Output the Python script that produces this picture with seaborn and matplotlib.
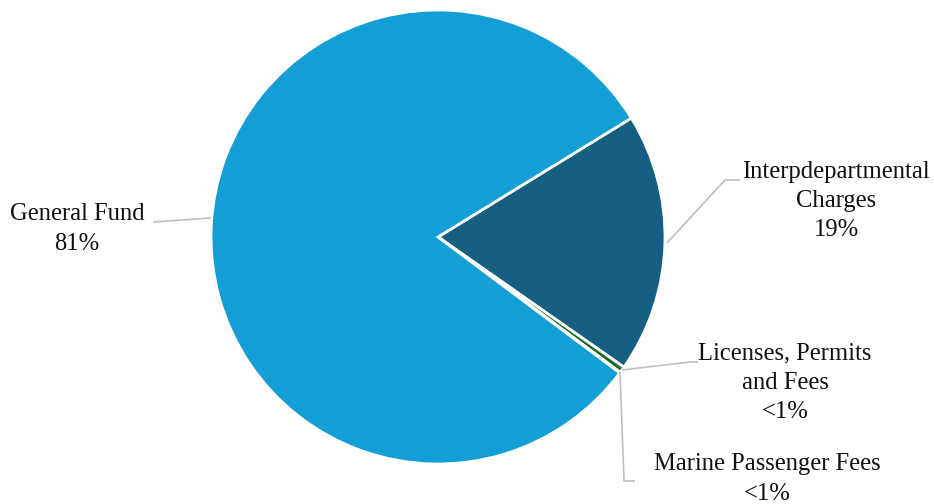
import matplotlib
matplotlib.use("Agg")
import matplotlib.pyplot as plt
import seaborn as sns
import numpy as np

# Funding sources (percent of total)
sources = ["Interpdepartmental\nCharges", "Licenses, Permits\nand Fees",
           "Marine Passenger Fees", "General Fund"]
shares = [18.5, 0.45, 0.05, 81.0]
share_labels = ["19%", "<1%", "<1%", "81%"]
colors = ["#175F82", "#1E6B2A", "#8FB8D8", "#139FD6"]

sns.set_theme(style="white")
plt.rcParams["font.family"] = ["Liberation Serif", "DejaVu Serif"]

W, H = 934, 504
fig = plt.figure(figsize=(W / 100, H / 100), dpi=100)
ax = fig.add_axes([0, 0, 1, 1])

# pie centre and radius in pixels
cx, cy, R = 438, 237, 227

wedges, _ = ax.pie(shares, colors=colors, startangle=31.6, counterclock=False,
                   radius=1.0, center=(0, 0),
                   wedgeprops=dict(edgecolor="white", linewidth=2.0))

ax.set_aspect("equal", adjustable="datalim")
ax.axis("off")


def px(x, y):
    return ((x - cx) / R, (cy - y) / R)


line_kw = dict(color="#BFBFBF", linewidth=1.2, solid_capstyle="butt")

# leader lines (pixel layout) and label anchors
leaders = {
    "Interpdepartmental\nCharges": [(667, 243), (725, 180), (740, 180)],
    "Licenses, Permits\nand Fees": [(622, 370), (690, 362), (698, 362)],
    "Marine Passenger Fees": [(620, 372), (624, 481), (635, 481)],
    "General Fund": [(211, 218), (153, 222)],
}
anchors = {
    "Interpdepartmental\nCharges": (836, 201),
    "Licenses, Permits\nand Fees": (785, 383),
    "Marine Passenger Fees": (767, 479),
    "General Fund": (77, 229),
}

for name, pct in zip(sources, share_labels):
    pts = np.array([px(*p) for p in leaders[name]])
    ax.plot(pts[:, 0], pts[:, 1], **line_kw)
    tx, ty = px(*anchors[name])
    ax.text(tx, ty, f"{name}\n{pct}", ha="center", va="center",
            fontsize=17.7, color="#111111", linespacing=1.42)

ax.set_xlim(-cx / R, (W - cx) / R)
ax.set_ylim(-(H - cy) / R, cy / R)

fig.savefig("out.png", dpi=100, facecolor="white")
